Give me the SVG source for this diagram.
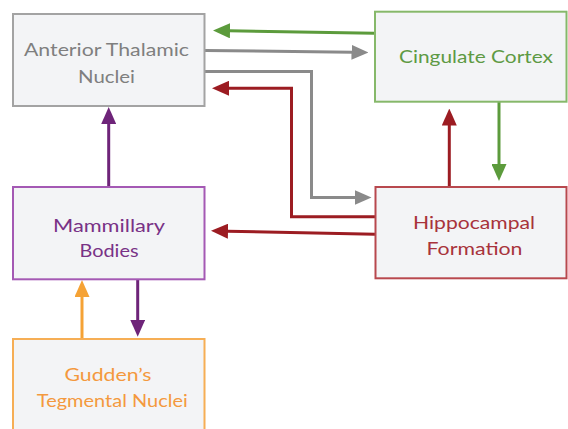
<svg xmlns="http://www.w3.org/2000/svg" width="568" height="429" viewBox="0 0 568 429">
  <style>
    .box { fill: #f3f4f6; stroke-width: 2; }
    .lbl { font-family: Lato, "Open Sans", "Liberation Sans", sans-serif; font-size: 18px; text-anchor: middle; }
    .con { fill: none; stroke-width: 3; }
  </style>
  <defs>
    <marker id="mGrey" viewBox="0 0 17 15" refX="1" refY="7.5" markerWidth="17" markerHeight="15" markerUnits="userSpaceOnUse" orient="auto"><path d="M0,0 L17,7.5 L0,15 Z" fill="#8a8a8a"/></marker>
    <marker id="mGreen" viewBox="0 0 17 15" refX="1" refY="7.5" markerWidth="17" markerHeight="15" markerUnits="userSpaceOnUse" orient="auto"><path d="M0,0 L17,7.5 L0,15 Z" fill="#5c9b3c"/></marker>
    <marker id="mRed" viewBox="0 0 17 15" refX="1" refY="7.5" markerWidth="17" markerHeight="15" markerUnits="userSpaceOnUse" orient="auto"><path d="M0,0 L17,7.5 L0,15 Z" fill="#9c1c22"/></marker>
    <marker id="mPurple" viewBox="0 0 17 15" refX="1" refY="7.5" markerWidth="17" markerHeight="15" markerUnits="userSpaceOnUse" orient="auto"><path d="M0,0 L17,7.5 L0,15 Z" fill="#6e2479"/></marker>
    <marker id="mOrange" viewBox="0 0 17 15" refX="1" refY="7.5" markerWidth="17" markerHeight="15" markerUnits="userSpaceOnUse" orient="auto"><path d="M0,0 L17,7.5 L0,15 Z" fill="#f5a235"/></marker>
  </defs>
  <rect width="568" height="429" fill="#ffffff"/>

  <g id="connectors">
    <path class="con" stroke="#5c9b3c" d="M374,33.3 L229,30.8" marker-end="url(#mGreen)"/>
    <path class="con" stroke="#8a8a8a" d="M205,50.5 L352.5,52.3" marker-end="url(#mGrey)"/>
    <path class="con" stroke="#8a8a8a" d="M205,71.5 H311.5 V197.5 H355.5" marker-end="url(#mGrey)"/>
    <path class="con" stroke="#9c1c22" d="M375,216.7 H291.5 V88.3 H228" marker-end="url(#mRed)"/>
    <path class="con" stroke="#9c1c22" d="M375,234.3 L227,231.2" marker-end="url(#mRed)"/>
    <path class="con" stroke="#6e2479" d="M108.7,187 V123" marker-end="url(#mPurple)"/>
    <path class="con" stroke="#9c1c22" d="M449.3,187 V124.5" marker-end="url(#mRed)"/>
    <path class="con" stroke="#5c9b3c" d="M499,102 V165" marker-end="url(#mGreen)"/>
    <path class="con" stroke="#f5a235" d="M82,339 V296" marker-end="url(#mOrange)"/>
    <path class="con" stroke="#6e2479" d="M137.7,280 V320.7" marker-end="url(#mPurple)"/>
  </g>

  <g id="anterior-thalamic-nuclei">
    <rect class="box" x="13" y="14" width="191.5" height="92" stroke="#a3a3a3"/>
    <text class="lbl" fill="#7f7f7f"><tspan x="106.5" y="55.7" textLength="165" lengthAdjust="spacingAndGlyphs">Anterior Thalamic</tspan><tspan x="106.5" y="82.7" textLength="57" lengthAdjust="spacingAndGlyphs">Nuclei</tspan></text>
  </g>

  <g id="cingulate-cortex">
    <rect class="box" x="375" y="11.7" width="191.5" height="90" stroke="#86b86a"/>
    <text class="lbl" fill="#5e9a44"><tspan x="476" y="63" textLength="154" lengthAdjust="spacingAndGlyphs">Cingulate Cortex</tspan></text>
  </g>

  <g id="mammillary-bodies">
    <rect class="box" x="13" y="187" width="191.5" height="92.3" stroke="#a459b4"/>
    <text class="lbl" fill="#793286"><tspan x="109" y="231.7" textLength="112" lengthAdjust="spacingAndGlyphs">Mammillary</tspan><tspan x="109" y="256.7" textLength="59" lengthAdjust="spacingAndGlyphs">Bodies</tspan></text>
  </g>

  <g id="hippocampal-formation">
    <rect class="box" x="375.5" y="187" width="191" height="91.3" stroke="#b8484e"/>
    <text class="lbl" fill="#a8333b"><tspan x="474" y="229.3" textLength="122" lengthAdjust="spacingAndGlyphs">Hippocampal</tspan><tspan x="474.5" y="255" textLength="96" lengthAdjust="spacingAndGlyphs">Formation</tspan></text>
  </g>

  <g id="guddens-tegmental-nuclei">
    <rect class="box" x="13" y="339" width="191.5" height="100" stroke="#f6ae55"/>
    <text class="lbl" fill="#f3993e"><tspan x="108" y="381" textLength="87" lengthAdjust="spacingAndGlyphs">Gudden’s</tspan><tspan x="112.3" y="406.7" textLength="151" lengthAdjust="spacingAndGlyphs">Tegmental Nuclei</tspan></text>
  </g>
</svg>
